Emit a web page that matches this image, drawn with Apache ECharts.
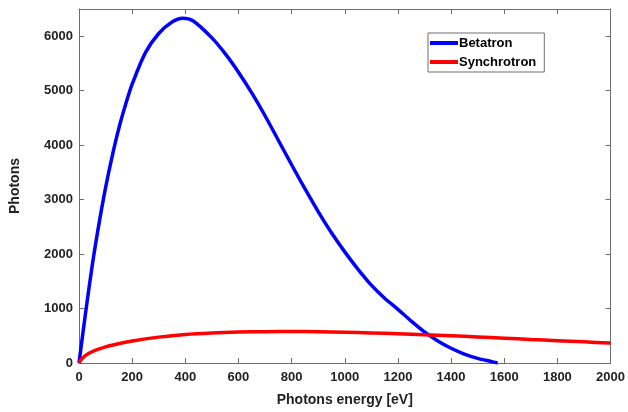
<!DOCTYPE html>
<html>
<head>
<meta charset="utf-8">
<script src="https://cdn.jsdelivr.net/npm/echarts@6/dist/echarts.min.js"></script>
<style>
  html, body { margin: 0; padding: 0; background: #fff; }
  #chart { width: 628px; height: 412px; }
</style>
</head>
<body>
<div id="chart"></div>
<script>
// values
const betaEnergy = [0, 25, 50, 75, 100, 125, 150, 175, 200, 250, 300, 350, 390, 430, 500, 550, 600, 650, 700, 750, 800, 850, 900, 950, 1000, 1050, 1100, 1150, 1200, 1250, 1300, 1350, 1400, 1450, 1500, 1550, 1575];
const betaPhotons = [0, 930, 1800, 2550, 3220, 3800, 4310, 4740, 5120, 5700, 6050, 6260, 6330, 6280, 5970, 5680, 5340, 4960, 4540, 4090, 3640, 3200, 2780, 2390, 2040, 1720, 1430, 1190, 985, 770, 570, 405, 270, 165, 85, 28, 0];
const synEnergy = [0, 10, 25, 50, 100, 150, 200, 300, 400, 500, 600, 700, 800, 900, 1000, 1100, 1200, 1300, 1400, 1500, 1600, 1700, 1800, 1900, 2000];
const synPhotons = [0, 70, 140, 210, 295, 355, 405, 475, 525, 552, 568, 576, 578, 574, 565, 553, 538, 520, 500, 478, 455, 432, 410, 388, 365];
const xTicks = { min: 0, max: 2000, interval: 200 };
const yTicks = { min: 0, max: 6500, interval: 1000 };
const seriesNames = ['Betatron', 'Synchrotron'];

const frameColor = '#6e6e6e';
const textColor = '#222';
const fontFamily = 'Liberation Sans, Arial, sans-serif';

function pairs(xs, ys) {
    return xs.map((x, i) => [x, ys[i]]);
}

let myChart = echarts.init(document.getElementById('chart'));

const frameAxis = {
    axisLine: { show: true, onZero: false, lineStyle: { color: frameColor, width: 1 } },
    axisTick: { show: true, inside: true, length: 5, lineStyle: { color: frameColor } },
    splitLine: { show: false }
};
const plainNumber = v => String(v);

myChart.setOption({
    animation: false,
    grid: { left: 79, right: 15, top: 9, bottom: 45 },
    legend: {
        orient: 'vertical',
        left: 428,
        top: 33,
        padding: [3, 8, 3, 2],
        itemGap: 5,
        itemWidth: 28,
        itemHeight: 4,
        icon: 'rect',
        borderColor: frameColor,
        borderWidth: 1,
        borderRadius: 0,
        backgroundColor: '#fff',
        textStyle: { fontFamily: fontFamily, fontWeight: 'bold', fontSize: 13, lineHeight: 14, color: '#000', padding: [0, 0, 0, -4] },
        data: seriesNames
    },
    xAxis: [
        Object.assign({}, frameAxis, {
            type: 'value',
            min: xTicks.min, max: xTicks.max, interval: xTicks.interval,
            name: 'Photons energy [eV]',
            nameLocation: 'middle',
            nameGap: 30,
            nameTextStyle: { fontFamily: fontFamily, fontWeight: 'bold', fontSize: 14, color: textColor },
            axisLabel: { margin: 8, formatter: plainNumber, fontFamily: fontFamily, fontWeight: 'bold', fontSize: 13, color: textColor }
        }),
        Object.assign({}, frameAxis, {
            type: 'value', position: 'top',
            min: xTicks.min, max: xTicks.max, interval: xTicks.interval,
            axisLabel: { show: false }
        })
    ],
    yAxis: [
        Object.assign({}, frameAxis, {
            type: 'value',
            min: yTicks.min, max: yTicks.max, interval: yTicks.interval,
            name: 'Photons',
            nameLocation: 'middle',
            nameGap: 57,
            nameTextStyle: { fontFamily: fontFamily, fontWeight: 'bold', fontSize: 14, color: textColor },
            axisLabel: { margin: 6, showMaxLabel: false, formatter: plainNumber, fontFamily: fontFamily, fontWeight: 'bold', fontSize: 13, color: textColor }
        }),
        Object.assign({}, frameAxis, {
            type: 'value', position: 'right',
            min: yTicks.min, max: yTicks.max, interval: yTicks.interval,
            axisLabel: { show: false }
        })
    ],
    series: [
        {
            name: seriesNames[0],
            type: 'line',
            xAxisIndex: 0, yAxisIndex: 0,
            symbol: 'none',
            smooth: 0.3,
            color: '#0000ff',
            lineStyle: { color: '#0000ff', width: 3.5 },
            data: pairs(betaEnergy, betaPhotons)
        },
        {
            name: seriesNames[1],
            type: 'line',
            xAxisIndex: 0, yAxisIndex: 0,
            symbol: 'none',
            smooth: 0.3,
            color: '#ff0000',
            lineStyle: { color: '#ff0000', width: 3.5 },
            data: pairs(synEnergy, synPhotons)
        }
    ]
});
</script>
</body>
</html>
